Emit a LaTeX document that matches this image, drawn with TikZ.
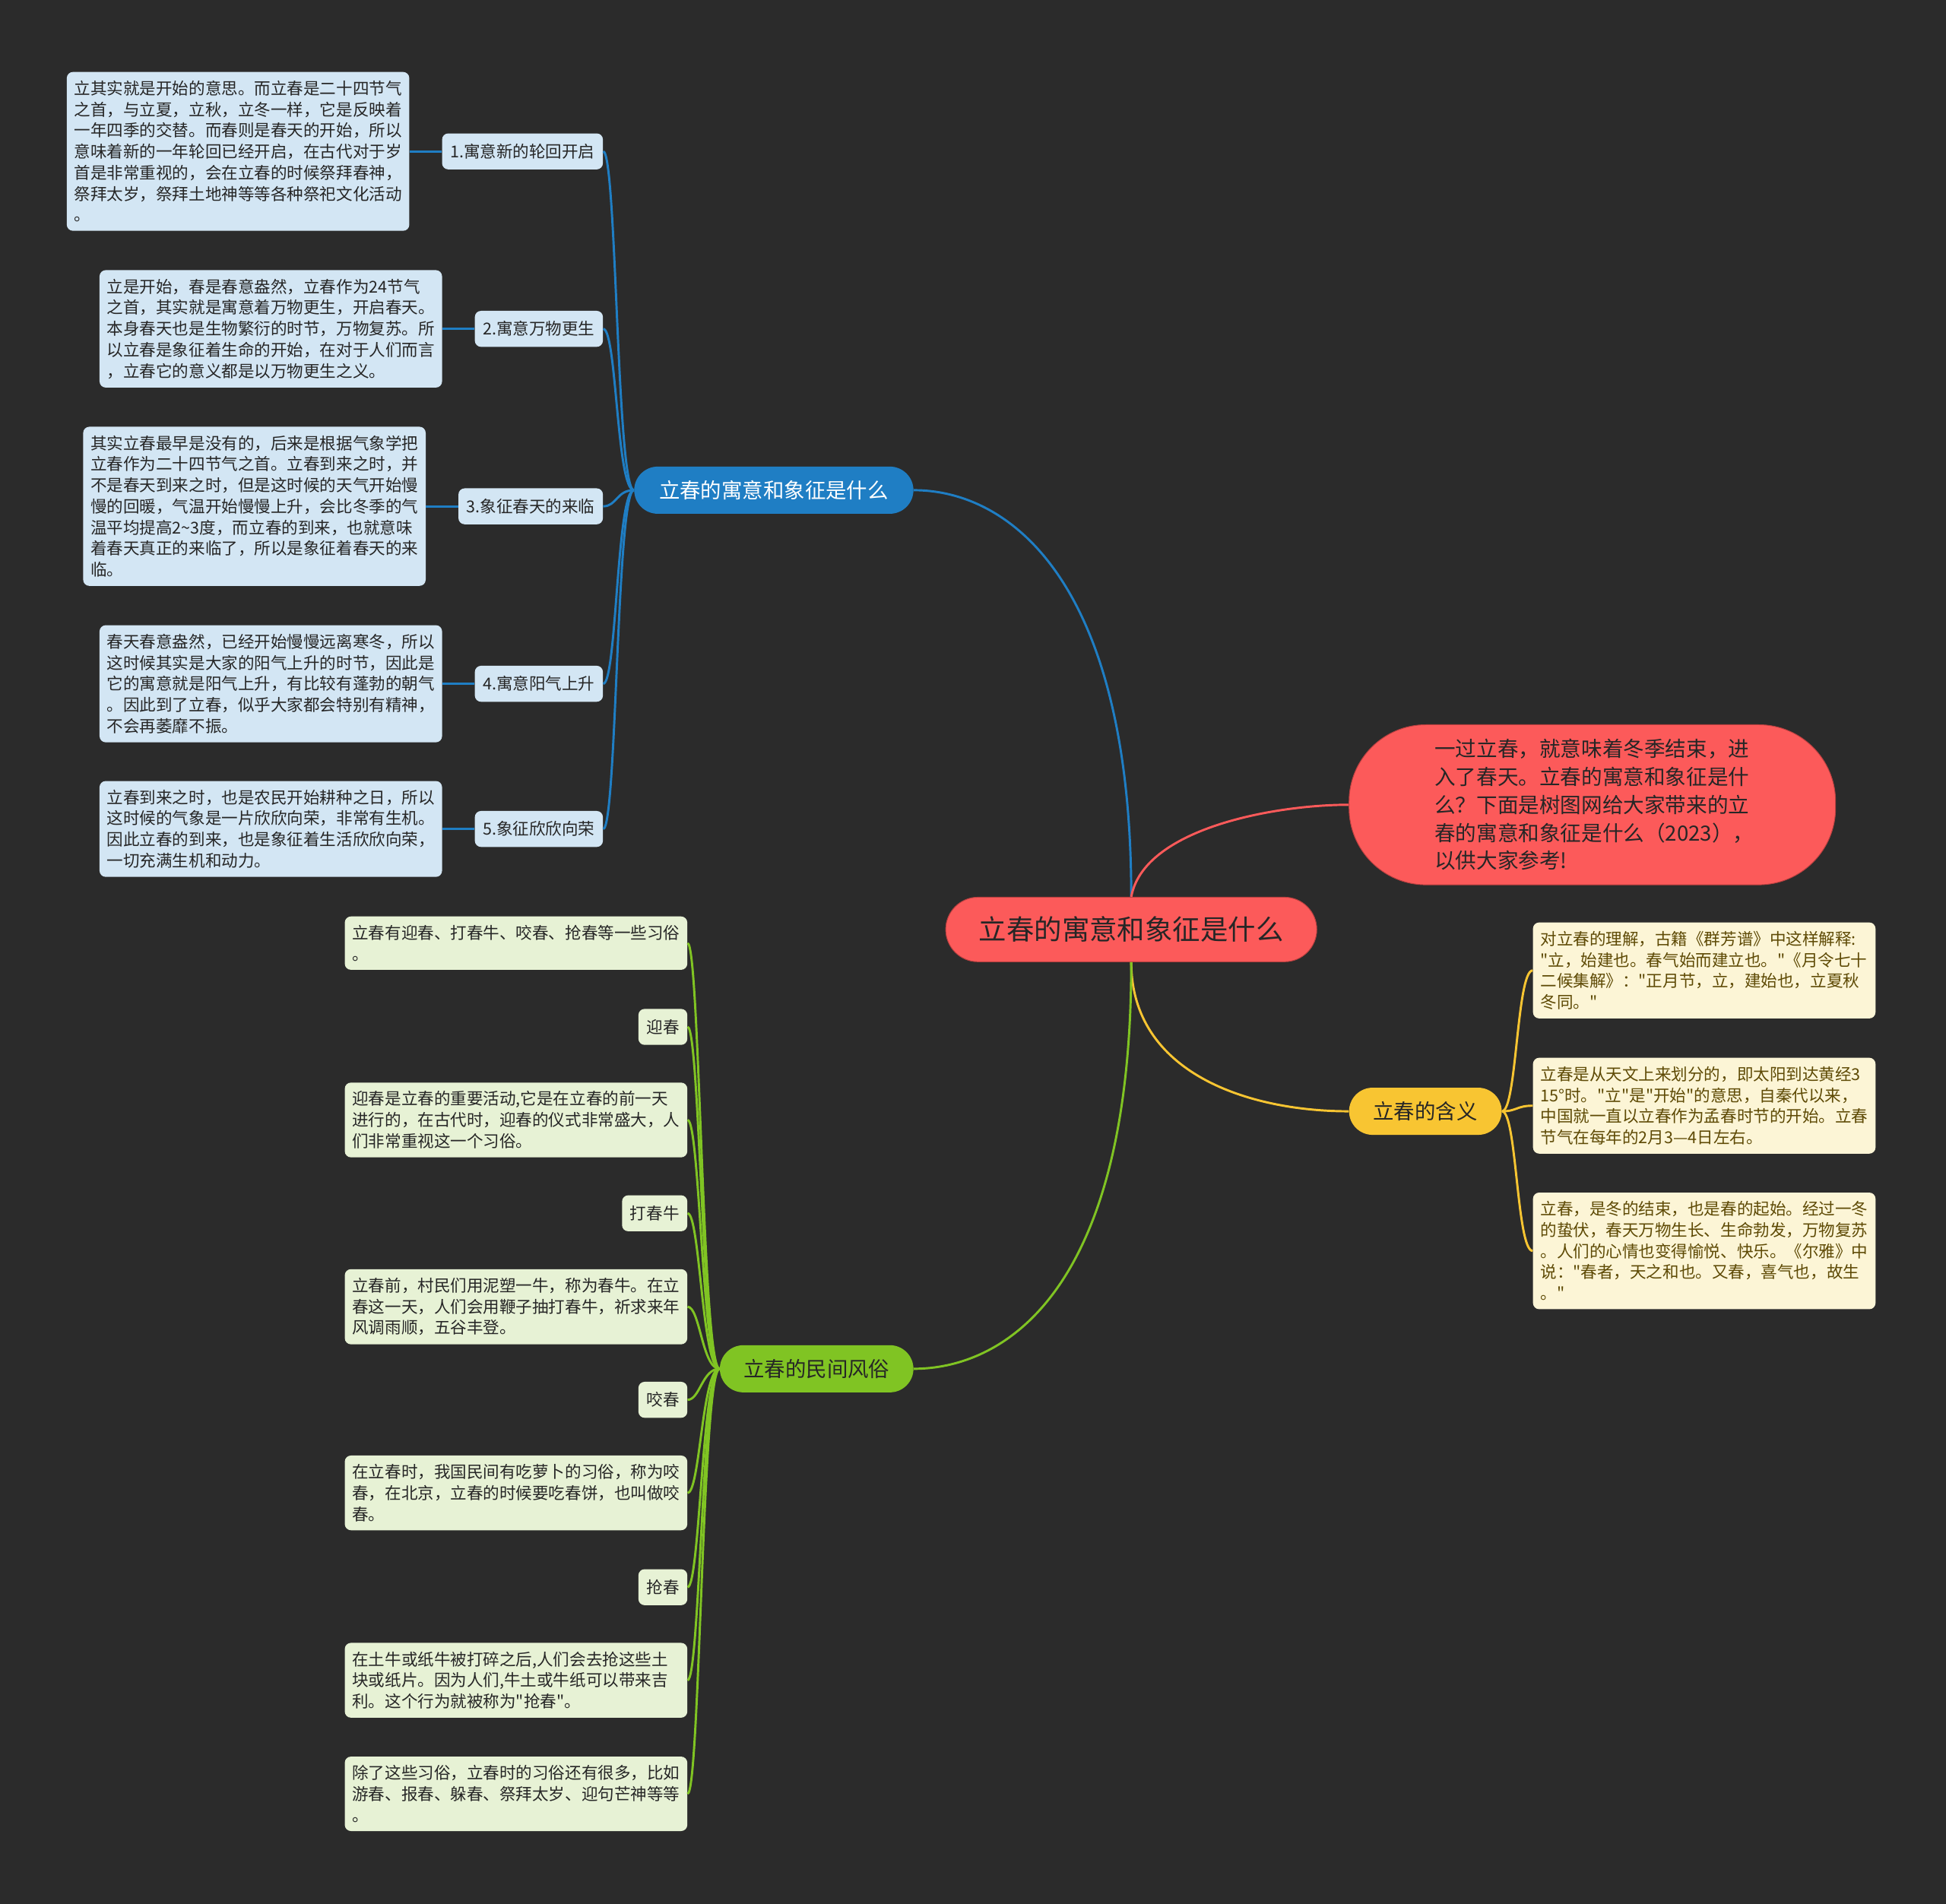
\documentclass[tikz,border=0pt]{standalone}
\usepackage{fontspec}
\setmainfont{Noto Sans CJK SC}[Ligatures=TeXOff]
\usetikzlibrary{positioning,calc}

\definecolor{bgdark}{HTML}{2B2B2B}
\definecolor{rootred}{HTML}{FC5A5A}
\definecolor{rootedge}{HTML}{B84040}
\definecolor{topicblue}{HTML}{1F7EC4}
\definecolor{lightblue}{HTML}{D3E6F4}
\definecolor{topicyellow}{HTML}{F8C532}
\definecolor{cream}{HTML}{FCF5D6}
\definecolor{olive}{HTML}{5E4A05}
\definecolor{topicgreen}{HTML}{80C423}
\definecolor{lightgreen}{HTML}{E7F2D5}
\definecolor{inkdark}{HTML}{262626}

\begin{document}
\begin{tikzpicture}[x=1pt,y=-1pt,
    rootbox/.style={fill=rootred, draw=rootedge, line width=0.6pt, rounded corners=26pt,
        minimum height=52pt, minimum width=299pt, text=inkdark, font=\fontsize{22.3}{26}\selectfont},
    introbox/.style={fill=rootred, draw=rootedge, line width=0.6pt, rounded corners=62pt,
        minimum height=129pt, text width=254pt, inner xsep=69pt, align=left,
        text=inkdark, font=\fontsize{16.9}{22.5}\selectfont},
    topic/.style={rounded corners=19pt, minimum height=38pt, inner xsep=15pt,
        font=\fontsize{16.8}{20}\selectfont},
    tag/.style={rounded corners=5pt, minimum height=29pt, inner xsep=6.5pt, inner ysep=4pt,
        text=inkdark, font=\fontsize{13.2}{17}\selectfont},
    note/.style={rounded corners=5pt, text width=264pt, inner xsep=6pt, inner ysep=7pt,
        align=left, font=\fontsize{13.2}{17}\selectfont},
    bluetag/.style={tag, fill=lightblue},
    bluenote/.style={note, fill=lightblue, text=inkdark},
    yellownote/.style={note, fill=cream, text=olive},
    greentag/.style={tag, fill=lightgreen},
    greennote/.style={note, fill=lightgreen, text=inkdark},
    blueline/.style={draw=topicblue, line width=1.8pt},
    yellowline/.style={draw=topicyellow, line width=1.8pt},
    greenline/.style={draw=topicgreen, line width=1.8pt},
    redline/.style={draw=rootred, line width=1.8pt}]

\fill[bgdark] (0,0) rectangle (1568,1534);

% centre and main branches
\node[rootbox] (root) at (911.5,749) {立春的寓意和象征是什么};
\node[introbox] (intro) at (1283,648.5) {一过立春，就意味着冬季结束，进\\入了春天。立春的寓意和象征是什\\么？下面是树图网给大家带来的立\\春的寓意和象征是什么（2023），\\以供大家参考!};
\node[topic, fill=topicblue, text=white, minimum width=225pt] (meaning) at (623.5,395) {立春的寓意和象征是什么};
\node[topic, fill=topicyellow, text=inkdark, minimum width=123pt] (define) at (1148.5,895.5) {立春的含义};
\node[topic, fill=topicgreen, text=inkdark, minimum width=156pt] (custom) at (658,1103) {立春的民间风俗};

% meaning branch
\node[bluetag, anchor=east] (m1) at (486,122) {1.寓意新的轮回开启};
\node[bluetag, anchor=east] (m2) at (486,265) {2.寓意万物更生};
\node[bluetag, anchor=east] (m3) at (486,408) {3.象征春天的来临};
\node[bluetag, anchor=east] (m4) at (486,551) {4.寓意阳气上升};
\node[bluetag, anchor=east] (m5) at (486,668) {5.象征欣欣向荣};

\node[bluenote, left=26pt of m1] (n1) {立其实就是开始的意思。而立春是二十四节气\\之首，与立夏，立秋，立冬一样，它是反映着\\一年四季的交替。而春则是春天的开始，所以\\意味着新的一年轮回已经开启，在古代对于岁\\首是非常重视的，会在立春的时候祭拜春神，\\祭拜太岁，祭拜土地神等等各种祭祀文化活动\\。};
\node[bluenote, left=26pt of m2] (n2) {立是开始，春是春意盎然，立春作为24节气\\之首，其实就是寓意着万物更生，开启春天。\\本身春天也是生物繁衍的时节，万物复苏。所\\以立春是象征着生命的开始，在对于人们而言\\，立春它的意义都是以万物更生之义。};
\node[bluenote, left=26pt of m3] (n3) {其实立春最早是没有的，后来是根据气象学把\\立春作为二十四节气之首。立春到来之时，并\\不是春天到来之时，但是这时候的天气开始慢\\慢的回暖，气温开始慢慢上升，会比冬季的气\\温平均提高2\textasciitilde 3度，而立春的到来，也就意味\\着春天真正的来临了，所以是象征着春天的来\\临。};
\node[bluenote, left=26pt of m4] (n4) {春天春意盎然，已经开始慢慢远离寒冬，所以\\这时候其实是大家的阳气上升的时节，因此是\\它的寓意就是阳气上升，有比较有蓬勃的朝气\\。因此到了立春，似乎大家都会特别有精神，\\不会再萎靡不振。};
\node[bluenote, left=26pt of m5] (n5) {立春到来之时，也是农民开始耕种之日，所以\\这时候的气象是一片欣欣向荣，非常有生机。\\因此立春的到来，也是象征着生活欣欣向荣，\\一切充满生机和动力。};

% definition branch
\node[yellownote, anchor=west] (y1) at (1235,782) {对立春的理解，古籍《群芳谱》中这样解释:\\"立，始建也。春气始而建立也。"《月令七十\\二候集解》："正月节，立，建始也，立夏秋\\冬同。"};
\node[yellownote, anchor=west] (y2) at (1235,891) {立春是从天文上来划分的，即太阳到达黄经3\\15°时。"立"是"开始"的意思，自秦代以来，\\中国就一直以立春作为孟春时节的开始。立春\\节气在每年的2月3—4日左右。};
\node[yellownote, anchor=west] (y3) at (1235,1008) {立春，是冬的结束，也是春的起始。经过一冬\\的蛰伏，春天万物生长、生命勃发，万物复苏\\。人们的心情也变得愉悦、快乐。《尔雅》中\\说："春者，天之和也。又春，喜气也，故生\\。"};

% customs branch
\node[greennote, anchor=east] (g1) at (554,760) {立春有迎春、打春牛、咬春、抢春等一些习俗\\。};
\node[greentag, anchor=east] (g2) at (554,827.5) {迎春};
\node[greennote, anchor=east] (g3) at (554,902.5) {迎春是立春的重要活动,它是在立春的前一天\\进行的，在古代时，迎春的仪式非常盛大，人\\们非常重视这一个习俗。};
\node[greentag, anchor=east] (g4) at (554,977.7) {打春牛};
\node[greennote, anchor=east] (g5) at (554,1053) {立春前，村民们用泥塑一牛，称为春牛。在立\\春这一天，人们会用鞭子抽打春牛，祈求来年\\风调雨顺，五谷丰登。};
\node[greentag, anchor=east] (g6) at (554,1128) {咬春};
\node[greennote, anchor=east] (g7) at (554,1203) {在立春时，我国民间有吃萝卜的习俗，称为咬\\春，在北京，立春的时候要吃春饼，也叫做咬\\春。};
\node[greentag, anchor=east] (g8) at (554,1279) {抢春};
\node[greennote, anchor=east] (g9) at (554,1354) {在土牛或纸牛被打碎之后,人们会去抢这些土\\块或纸片。因为人们,牛土或牛纸可以带来吉\\利。这个行为就被称为"抢春"。};
\node[greennote, anchor=east] (g10) at (554,1445.5) {除了这些习俗，立春时的习俗还有很多，比如\\游春、报春、躲春、祭拜太岁、迎句芒神等等\\。};

% connectors
\draw[blueline] (root.north) .. controls ($(root.north)+(0,-250)$) and ($(meaning.east)+(80,0)$) .. (meaning.east);
\draw[redline] (root.north) .. controls ($(root.north)+(10,-55)$) and ($(intro.west)+(-60,0)$) .. (intro.west);
\draw[yellowline] (root.south) .. controls ($(root.south)+(0,90)$) and ($(define.west)+(-80,0)$) .. (define.west);
\draw[greenline] (root.south) .. controls ($(root.south)+(0,270)$) and ($(custom.east)+(70,0)$) .. (custom.east);

\foreach \i in {1,...,5} {
    \draw[blueline] (meaning.west) .. controls ($(meaning.west)+(-14,0)$) and ($(m\i.east)+(11,0)$) .. (m\i.east);
    \draw[blueline] (m\i.west) -- (n\i.east);
}
\foreach \i in {1,2,3}
    \draw[yellowline] (define.east) .. controls ($(define.east)+(12,0)$) and ($(y\i.west)+(-13,0)$) .. (y\i.west);
\foreach \i in {1,...,10}
    \draw[greenline] (custom.west) .. controls ($(custom.west)+(-14,0)$) and ($(g\i.east)+(10,0)$) .. (g\i.east);
\end{tikzpicture}
\end{document}
